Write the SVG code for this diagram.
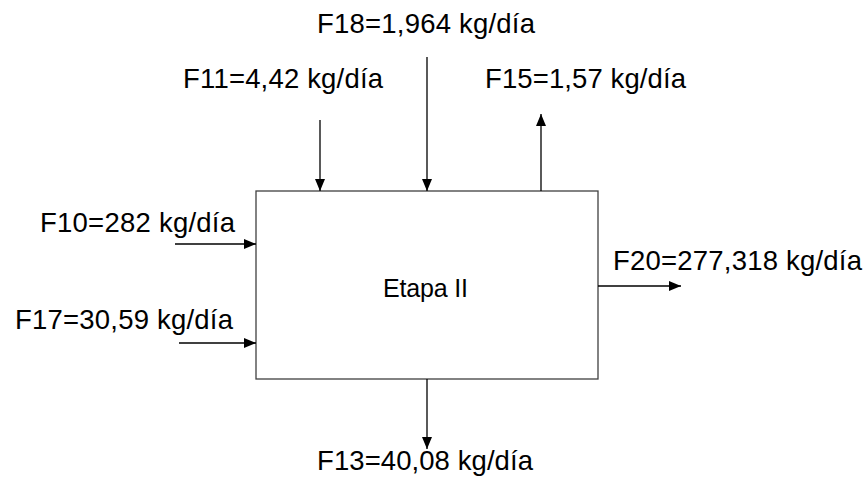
<svg xmlns="http://www.w3.org/2000/svg" width="867" height="479" viewBox="0 0 867 479">
  <style>
    .lbl { font-family: "Liberation Sans", Arial, sans-serif; font-size: 27.5px; fill: #000; }
    .name { font-family: "Liberation Sans", Arial, sans-serif; font-size: 25px; fill: #000; }
    .flow { stroke: #000; stroke-width: 1.3; fill: none; }
    .box { stroke: #404040; stroke-width: 1.3; fill: #fff; }
  </style>
  <defs>
    <marker id="arrow" markerWidth="13" markerHeight="11" refX="12" refY="5.5" orient="auto" markerUnits="userSpaceOnUse">
      <path d="M0,0.5 L12,5.5 L0,10.5 Z" fill="#000"/>
    </marker>
  </defs>
  <rect width="867" height="479" fill="#fff"/>

  <g id="etapa-ii">
    <rect class="box" x="256" y="191" width="342" height="188"/>
    <text class="name" x="383" y="297" textLength="85">Etapa II</text>
  </g>

  <g id="connectors">
    <line class="flow" x1="320" y1="120" x2="320" y2="191" marker-end="url(#arrow)"/>
    <line class="flow" x1="427" y1="57" x2="427" y2="191" marker-end="url(#arrow)"/>
    <line class="flow" x1="541" y1="191" x2="541" y2="114" marker-end="url(#arrow)"/>
    <line class="flow" x1="175" y1="244" x2="256" y2="244" marker-end="url(#arrow)"/>
    <line class="flow" x1="179" y1="343" x2="256" y2="343" marker-end="url(#arrow)"/>
    <line class="flow" x1="598" y1="286" x2="681" y2="286" marker-end="url(#arrow)"/>
    <line class="flow" x1="427" y1="379" x2="427" y2="449" marker-end="url(#arrow)"/>
  </g>

  <g id="f18"><text class="lbl" x="317" y="33" textLength="218">F18=1,964 kg/día</text></g>
  <g id="f11"><text class="lbl" x="183" y="88" textLength="200">F11=4,42 kg/día</text></g>
  <g id="f15"><text class="lbl" x="485" y="88" textLength="201">F15=1,57 kg/día</text></g>
  <g id="f10"><text class="lbl" x="40" y="232" textLength="195">F10=282 kg/día</text></g>
  <g id="f17"><text class="lbl" x="15" y="329" textLength="218">F17=30,59 kg/día</text></g>
  <g id="f20"><text class="lbl" x="613" y="270" textLength="249">F20=277,318 kg/día</text></g>
  <g id="f13"><text class="lbl" x="317" y="470" textLength="216">F13=40,08 kg/día</text></g>
</svg>
